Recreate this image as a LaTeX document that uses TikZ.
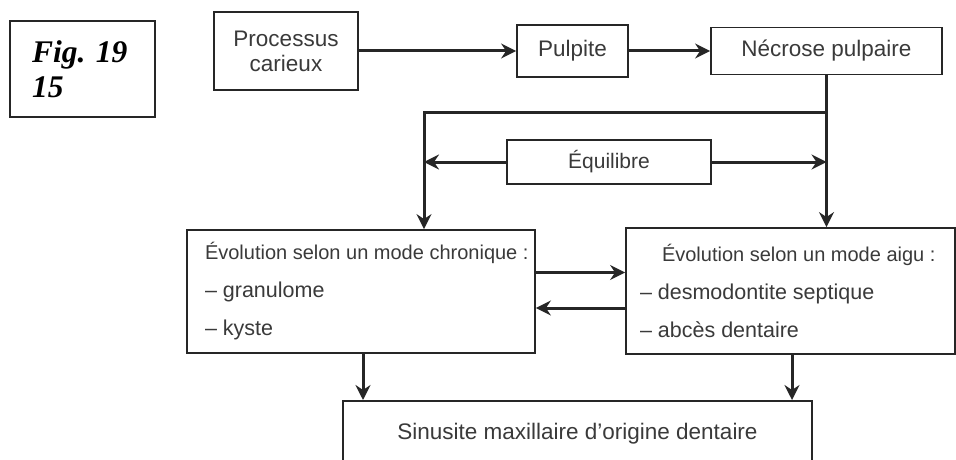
\documentclass[tikz,border=0pt]{standalone}
\usepackage{fontspec}
\usepackage{xcolor}
\usepackage{tikz}
\setmainfont{Liberation Sans}
\newfontfamily\figfont{Liberation Serif}
\usetikzlibrary{arrows.meta}
\usetikzlibrary{calc}
\definecolor{ink}{HTML}{262626}
\definecolor{inktext}{HTML}{3A3A3A}
\tikzstyle{flowbox} = [draw=ink, line width=1.8pt, rectangle, text=inktext,
inner sep=0pt, font=\fontsize{22.5}{25}\selectfont]
\tikzstyle{flowarrow} = [draw=ink, line width=3pt,
-{Stealth[length=15pt, width=15pt, inset=5pt]}]

\begin{document}
\begin{tikzpicture}[x=1pt, y=-1pt]
        \clip (0,0) rectangle (956,460);
        \fill[white] (0,0) rectangle (956,460);
        % figure number
        \node [flowbox, minimum width=145pt, minimum height=96pt, align=left, text width=101pt,
            text=black, font=\figfont\bfseries\itshape\fontsize{31.5}{35}\selectfont] (fig) at (82.5,69) {Fig.\ 19\\15};
        % top row
        \node [flowbox, minimum width=144pt, minimum height=78pt, align=center] (proc) at (286,51) {Processus\\carieux};
        \node [flowbox, minimum width=111pt, minimum height=52pt] (pulp) at (572.5,51) {Pulpite};
        \node [flowbox, minimum width=231pt, minimum height=47pt] (necr) at (826.5,51) {Nécrose pulpaire};
        \node [flowbox, minimum width=204pt, minimum height=44pt, font=\fontsize{21}{24}\selectfont] (equi) at (609,162) {Équilibre};
        % two modes
        \node [flowbox, minimum width=348pt, minimum height=123pt, font=\fontsize{21.5}{38}\selectfont] (chro) at (361,291.5)
            {\begin{minipage}{346pt}\raggedright\leftskip=17pt
            {\fontsize{20}{38}\selectfont Évolution selon un mode chronique :}\\
            – granulome\\
            – kyste
            \end{minipage}};
        \node [flowbox, minimum width=329pt, minimum height=126pt, font=\fontsize{21.5}{38}\selectfont] (aigu) at (790.5,291)
            {\begin{minipage}{321pt}\raggedright\leftskip=10pt
            \hspace*{22pt}{\fontsize{20}{38}\selectfont Évolution selon un mode aigu :}\\
            – desmodontite septique\\
            – abcès dentaire
            \end{minipage}};
        \node [flowbox, anchor=north, minimum width=469pt, inner ysep=22pt] (sinus) at (577.5,400)
            {Sinusite maxillaire d'origine dentaire};
        % connectors
        \coordinate (split) at (424,112);
        \draw [flowarrow] (proc) -- (pulp);
        \draw [flowarrow] (pulp) -- (necr);
        \draw [flowarrow] (necr.south) -- (necr.south |- aigu.north);
        \draw [flowarrow] (necr.south |- split) -- (split) -- (split |- chro.north);
        \draw [flowarrow] (equi.west) -- (equi.west -| split);
        \draw [flowarrow] (equi.east) -- (equi.east -| necr.south);
        \draw [flowarrow] ([yshift=19pt]chro.east) -- ([yshift=19pt]chro.east -| aigu.west);
        \draw [flowarrow] ([yshift=-17pt]aigu.west) -- ([yshift=-17pt]aigu.west -| chro.east);
        \draw [flowarrow] ([xshift=2pt]chro.south) -- ([xshift=2pt]chro.south |- sinus.north);
        \draw [flowarrow] ([xshift=1.5pt]aigu.south) -- ([xshift=1.5pt]aigu.south |- sinus.north);
    \end{tikzpicture}
\end{document}
